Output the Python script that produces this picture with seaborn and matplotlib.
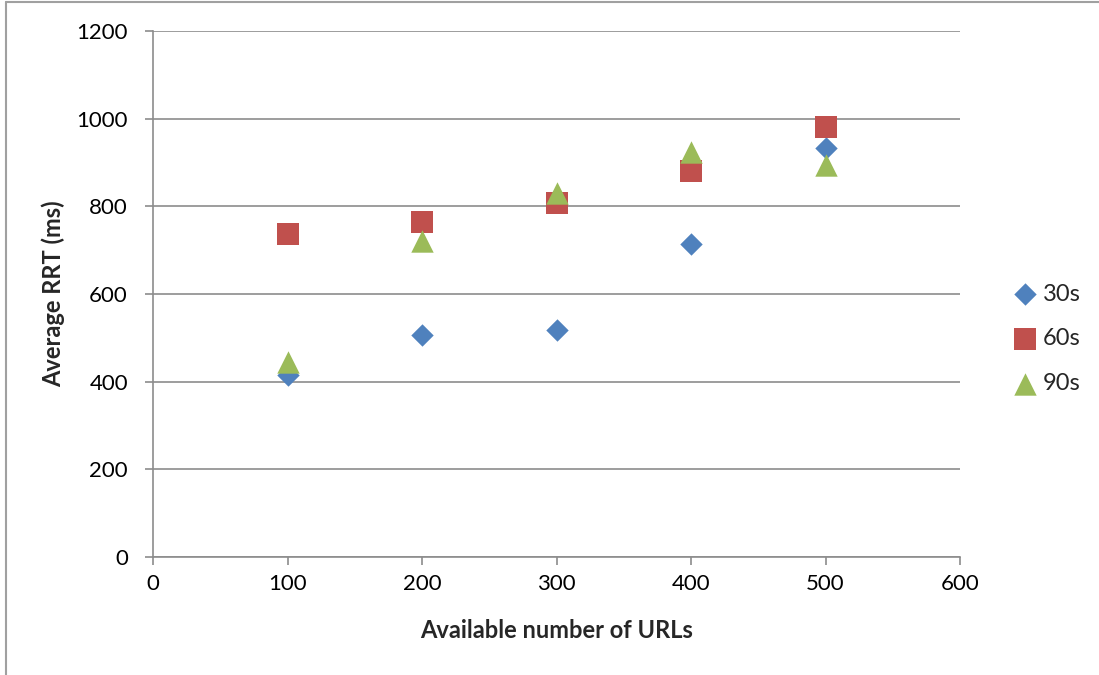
import matplotlib
matplotlib.use("Agg")
import matplotlib.pyplot as plt
from matplotlib.lines import Line2D
import seaborn as sns
import pandas as pd

urls = [100, 200, 300, 400, 500]
rrt_30s = [415, 507, 519, 714, 933]
rrt_60s = [737, 765, 808, 880, 982]
rrt_90s = [444, 721, 830, 923, 895]
series_names = ["30s", "60s", "90s"]
colors = {"30s": "#4F81BD", "60s": "#C0504D", "90s": "#9BBB59"}
markers = {"30s": "D", "60s": "s", "90s": "^"}
sizes = {"30s": 130, "60s": 260, "90s": 260}

df = pd.concat([
    pd.DataFrame({"x": urls, "y": vals, "series": name})
    for name, vals in zip(series_names, [rrt_30s, rrt_60s, rrt_90s])
])

sns.set_theme(style="white")
plt.rcParams["font.family"] = ["Lato", "DejaVu Sans"]

fig = plt.figure(figsize=(10.99, 6.75), dpi=100)
ax = fig.add_axes([153/1099, 1-557/675, (960-153)/1099, (557-31)/675])

for name in series_names:
    sub = df[df["series"] == name]
    sns.scatterplot(data=sub, x="x", y="y", ax=ax, color=colors[name],
                    marker=markers[name], s=sizes[name], linewidth=0,
                    label=name, zorder=3)

ax.set_xlim(0, 600)
ax.set_ylim(0, 1200)
ax.set_xticks(range(0, 601, 100))
ax.set_yticks(range(0, 1201, 200))
ax.yaxis.grid(True, color="#8C8C8C", linewidth=1.2)
ax.xaxis.grid(False)
for side in ["top", "right"]:
    ax.spines[side].set_visible(False)
for side in ["left", "bottom"]:
    ax.spines[side].set_color("#8C8C8C")
    ax.spines[side].set_linewidth(1.2)
ax.tick_params(axis="both", which="both", direction="out", length=6, width=1.2,
               color="#8C8C8C", labelsize=16, labelcolor="black",
               left=True, bottom=True)
ax.tick_params(axis="y", pad=12)
ax.tick_params(axis="x", pad=6)
ax.set_xlabel("Available number of URLs", fontsize=17, fontweight="bold", labelpad=18)
ax.set_ylabel("Average RRT (ms)", fontsize=17, fontweight="bold", labelpad=8)

leg = ax.legend(loc="center left", bbox_to_anchor=(1.04, 0.415), frameon=False,
                fontsize=17, handletextpad=0.25, labelspacing=1.0, markerscale=1.0,
                handlelength=1.0)

fig.add_artist(Line2D([6/1099, 6/1099], [0, 1-2/675], transform=fig.transFigure,
                      color="#A0A0A0", linewidth=1.5))
fig.add_artist(Line2D([6/1099, 1], [1-2/675, 1-2/675], transform=fig.transFigure,
                      color="#A0A0A0", linewidth=1.5))

fig.savefig("out.png", dpi=100)
